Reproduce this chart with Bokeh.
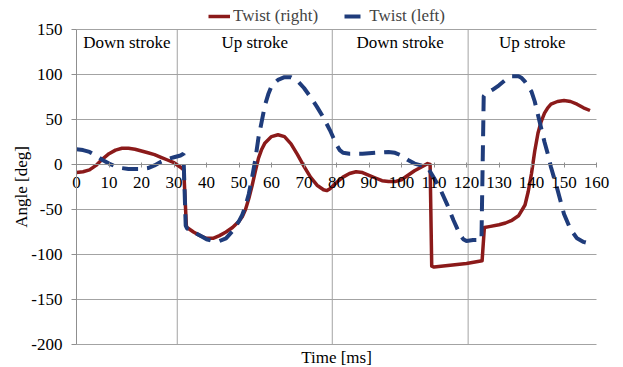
from bokeh.plotting import figure
from bokeh.models import Legend, LegendItem, Label, FixedTicker, Range1d
from bokeh.embed import file_html
from bokeh.resources import INLINE
from bokeh.core.properties import value

# ---- data ----
time_right = [0, 2, 4, 6, 8, 10, 12, 14, 16, 18, 20, 22, 24, 26, 28, 30, 32, 33, 33.8, 34,
              36, 38, 40, 42, 44, 46, 48, 50, 51, 52, 53, 54, 55, 56, 57, 58, 60, 62, 64,
              66, 68, 70, 72, 74, 76, 77, 78, 80, 82, 84, 86, 88, 90, 92, 94, 96, 98, 100,
              102, 104, 106, 108, 108.8, 109.3, 110, 115, 120, 124.8, 125.5, 127, 130, 132,
              134, 136, 138, 139, 140, 141, 142, 143, 144, 145, 146, 148, 150, 152, 154,
              156, 158]
twist_right = [-9, -8, -6, -1, 6, 12, 16, 18, 18, 17, 15, 13, 11, 8, 5, 2, -3, -6, -68, -70,
               -75, -79, -82, -82, -79, -75, -70, -63, -58, -50, -38, -24, -8, 7, 17, 24, 31,
               33, 31, 23, 11, -2, -14, -23, -28, -29, -27, -20, -14, -10, -8, -9, -12, -15,
               -18, -19, -19, -17, -12, -7, -3, 1, 0, -113, -114, -112, -110, -107, -70, -69,
               -67, -65, -62, -57, -45, -30, -10, 15, 35, 48, 57, 63, 67, 70, 71, 70, 67, 63,
               60]

time_left = [0, 2, 4, 6, 8, 10, 12, 14, 16, 18, 20, 22, 24, 26, 28, 30, 32, 32.9, 33.6, 34,
             36, 38, 40, 42, 44, 46, 48, 50, 51, 52, 53, 54, 55, 56, 57, 58, 59, 60, 62, 64,
             66, 68, 70, 72, 74, 76, 78, 79, 80, 81, 82, 84, 88, 92, 96, 98, 100, 102, 104,
             106, 108, 110, 112, 114, 116, 118, 119, 120, 122, 124.6, 125.3, 126, 128, 130,
             132, 134, 136, 137, 138, 140, 141, 142, 143, 144, 145, 146, 148, 150, 152, 154,
             156, 158]
twist_left = [17, 16, 14, 10, 5, 1, -2, -4, -5, -5, -5, -4, -1, 3, 6, 8, 10, 12, -68, -71,
              -75, -79, -83, -85, -85, -82, -74, -63, -56, -46, -33, -15, 5, 30, 48, 66, 78,
              87, 94, 97, 97, 93, 85, 75, 64, 52, 38, 30, 22, 16, 13, 12, 12, 13, 14, 13, 10,
              5, 1, -1, -3, -15, -28, -44, -62, -78, -83, -85, -84, -84, 76, 79, 83, 88, 94,
              98, 98, 96, 92, 81, 70, 55, 40, 25, 12, -3, -28, -55, -72, -82, -86, -88]

stroke_bounds = [0, 31, 78.7, 120.5, 160]
stroke_names = ["Down stroke", "Up stroke", "Down stroke", "Up stroke"]
x_ticks = list(range(0, 161, 10))
y_ticks = list(range(-200, 151, 50))

FONT = "Liberation Serif"
RED = "#8B1A1A"
BLUE = "#1F3C7B"
GRID = "#a3a3a3"
AXIS = "#8f8f8f"

W, H = 623, 367
# plot area: x 0..160 -> px 76..596 ; y 150..-200 -> px 29..344
px_per_x = 520 / (x_ticks[-1] - x_ticks[0])
px_per_y = 315 / (y_ticks[-1] - y_ticks[0])
x0 = x_ticks[0] - 76 / px_per_x
y1 = y_ticks[-1] + 29 / px_per_y

p = figure(width=W, height=H, output_backend="svg", toolbar_location=None,
           x_range=Range1d(x0, x0 + W / px_per_x), y_range=Range1d(y1 - H / px_per_y, y1),
           min_border=0)
p.outline_line_color = None
p.background_fill_color = "white"
p.border_fill_color = "white"
p.xgrid.visible = False
p.ygrid.visible = False

# horizontal gridlines over the plot area
p.segment(x0=[x_ticks[0]] * len(y_ticks), x1=[x_ticks[-1]] * len(y_ticks),
          y0=y_ticks, y1=y_ticks, line_color=GRID, line_width=1)
# stroke boundaries
nb = len(stroke_bounds) - 2
p.segment(x0=stroke_bounds[1:-1], x1=stroke_bounds[1:-1],
          y0=[y_ticks[0]] * nb, y1=[y_ticks[-1]] * nb, line_color=GRID, line_width=1)

# x axis crossing at y = 0
p.xaxis.fixed_location = 0
p.xaxis.bounds = (x_ticks[0], x_ticks[-1])
p.xaxis.ticker = FixedTicker(ticks=x_ticks)
p.xaxis.axis_line_color = AXIS
p.xaxis.major_tick_line_color = AXIS
p.xaxis.major_tick_in = 2
p.xaxis.major_tick_out = 3
p.xaxis.minor_tick_line_color = None
p.xaxis.major_label_text_font = FONT
p.xaxis.major_label_text_font_size = "17px"
p.xaxis.major_label_text_color = "black"
p.xaxis.major_label_standoff = 9

# y axis at x = 0
p.yaxis.fixed_location = x_ticks[0]
p.yaxis.bounds = (y_ticks[0], y_ticks[-1])
p.yaxis.ticker = FixedTicker(ticks=y_ticks)
p.yaxis.major_label_overrides = {t: str(t) for t in y_ticks}
p.yaxis.axis_line_color = AXIS
p.yaxis.major_tick_line_color = AXIS
p.yaxis.major_tick_in = 0
p.yaxis.major_tick_out = 5
p.yaxis.minor_tick_line_color = None
p.yaxis.major_label_text_font = FONT
p.yaxis.major_label_text_font_size = "17px"
p.yaxis.major_label_text_color = "black"
p.yaxis.major_label_standoff = 9
p.yaxis.axis_label = "Angle [deg]"
p.yaxis.axis_label_text_font = FONT
p.yaxis.axis_label_text_font_size = "17px"
p.yaxis.axis_label_text_font_style = "normal"
p.yaxis.axis_label_text_color = "black"
p.yaxis.axis_label_standoff = -3

mids = [(stroke_bounds[i] + stroke_bounds[i + 1]) / 2 for i in range(len(stroke_names))]
p.text(x=mids, y=[135.5] * len(mids), text=stroke_names, text_align="center",
       text_baseline="alphabetic", text_font=value(FONT), text_font_size="17px",
       text_color="black")

r1 = p.line(time_right, twist_right, line_color=RED, line_width=3.5, line_join="round")
r2 = p.line(time_left, twist_left, line_color=BLUE, line_width=4, line_dash="16 9")

legend = Legend(items=[LegendItem(label="Twist (right)", renderers=[r1]),
                       LegendItem(label="Twist (left)", renderers=[r2])],
                orientation="horizontal", location=(208, H - 26), padding=0, margin=0,
                spacing=26, glyph_width=22, glyph_height=20, label_standoff=3,
                border_line_color=None, background_fill_alpha=0,
                label_text_font=FONT, label_text_font_size="17px")
p.add_layout(legend)

p.add_layout(Label(x=(x_ticks[0] + x_ticks[-1]) / 2, y=-214, text="Time [ms]",
                   text_align="center", text_baseline="alphabetic", text_font=FONT,
                   text_font_size="17px", text_color="black"))

open("out.html", "w").write(file_html(p, INLINE))
